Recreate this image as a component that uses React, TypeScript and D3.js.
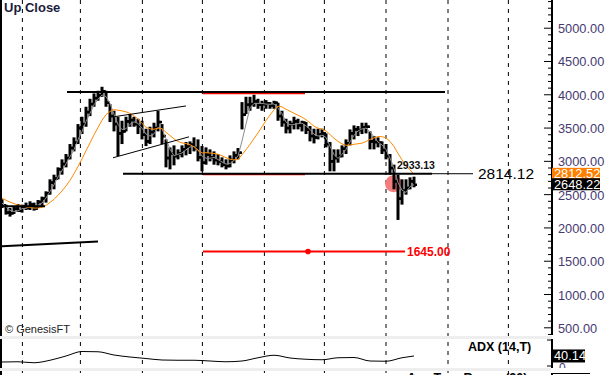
import * as d3 from 'd3'

// ---- price data (first 10 bars sit left of the visible window, they only feed the averages)
const highs = [
  2620, 2600, 2580, 2560, 2540, 2520, 2500, 2480, 2460, 2440,
  2430, 2350, 2300, 2330, 2360, 2350, 2380, 2400, 2380, 2420,
  2470, 2550, 2730, 2800, 2910, 3030, 3110, 3260, 3360, 3560,
  3670, 3820, 3940, 4020, 4060, 4120, 4060, 3860, 3760, 3670,
  3610, 3670, 3710, 3670, 3640, 3610, 3490, 3520, 3580, 3760,
  3560, 3330, 3210, 3240, 3180, 3240, 3290, 3300, 3360, 3330,
  3230, 3210, 3180, 3150, 3110, 3060, 3030, 3090, 3150, 3200,
  3890, 3970, 3970, 4000, 3940, 3910, 3920, 3890, 3910, 3880,
  3760, 3640, 3610, 3670, 3640, 3610, 3590, 3530, 3490, 3490,
  3490, 3420, 3290, 3180, 3180, 3240, 3330, 3480, 3540, 3530,
  3580, 3580, 3450, 3380, 3360, 3300, 3260, 3110, 2950, 2800,
  2730, 2730, 2760, 2770,
]
const lows = [
  2500, 2480, 2460, 2440, 2420, 2400, 2380, 2360, 2340, 2320,
  2300, 2200, 2170, 2210, 2240, 2230, 2270, 2270, 2260, 2300,
  2330, 2380, 2500, 2580, 2730, 2800, 2910, 3030, 3150, 3260,
  3410, 3520, 3680, 3820, 3910, 3970, 3820, 3590, 3450, 3080,
  3260, 3450, 3520, 3520, 3410, 3330, 3230, 3260, 3360, 3450,
  3260, 2910, 2880, 2940, 3030, 3060, 3090, 3110, 3150, 3000,
  2850, 2950, 3000, 2950, 2940, 2910, 2880, 2910, 2970, 3030,
  3480, 3710, 3760, 3820, 3790, 3760, 3790, 3790, 3790, 3610,
  3520, 3420, 3420, 3480, 3480, 3450, 3410, 3300, 3270, 3330,
  3360, 3210, 2850, 2850, 2980, 3060, 3110, 3240, 3330, 3380,
  3410, 3420, 3180, 3180, 3210, 3110, 3030, 2800, 2580, 2120,
  2350, 2500, 2580, 2610,
]
const closes = [
  2560, 2540, 2520, 2500, 2480, 2460, 2440, 2420, 2400, 2380,
  2340, 2230, 2220, 2290, 2260, 2320, 2300, 2350, 2290, 2390,
  2440, 2520, 2680, 2740, 2880, 2960, 3050, 3200, 3280, 3500,
  3560, 3740, 3860, 3950, 3990, 4050, 3880, 3680, 3560, 3420,
  3450, 3600, 3620, 3560, 3530, 3400, 3300, 3440, 3500, 3590,
  3380, 3050, 3120, 3080, 3120, 3180, 3220, 3250, 3200, 3060,
  2980, 3100, 3060, 3020, 3000, 2950, 2930, 3020, 3090, 3130,
  3700, 3850, 3860, 3900, 3850, 3860, 3870, 3840, 3880, 3680,
  3590, 3500, 3560, 3600, 3540, 3580, 3480, 3380, 3360, 3400,
  3420, 3260, 3000, 3050, 3080, 3190, 3270, 3420, 3480, 3470,
  3510, 3520, 3300, 3290, 3280, 3170, 3080, 2900, 2700, 2440,
  2560, 2600, 2700, 2648.22,
]

// month separators (bar positions)
const monthIdx = [15.1, 29.6, 45.1, 60.1, 75.6, 90.6, 106, 121.5, 136.6]
const yTicks = [500, 1000, 1500, 2000, 2500, 3000, 3500, 4000, 4500, 5000]

// ADX (14,T)
const adxIdx = [10, 14, 18, 22, 26, 30, 34, 38, 42, 46, 50, 54, 58, 62, 66, 70, 74, 78, 82, 86, 90, 94, 98, 102, 106, 110, 113]
const adxVals = [16, 17, 13, 23, 40, 58, 57, 44, 36, 30, 24, 23, 23, 20, 17, 20, 33, 43, 32, 27, 25, 33, 34, 20, 19, 33, 40.14]

// drawn studies: [bar, price] endpoints
const thickLines = [
  [[26.25, 4040], [120.75, 4040]],
  [[40.25, 2814.12], [117.5, 2814.12]],
  [[9.5, 2325], [20.75, 2325]],
  [[9.5, 1722], [34, 1796]],
]
const thinLines = [
  [[37.75, 3668], [56, 3832]],
  [[37.75, 3054], [56.75, 3368]],
  [[117.5, 2814.12], [127.75, 2814.12]],
]
const redLines = [
  [[60.25, 4022], [85.75, 4022]],
  [[60.25, 2806], [85.75, 2806]],
  [[60.25, 1645], [110.75, 1645]],
]
const redDot = [86.5, 1645]
const circlePt = [107.9, 2665]

const lastOrange = 2812.52
const lastClose = 2648.22
const lastAdx = 40.14

const sma = (arr: number[], n: number) =>
  arr.map((_, i) => (i < n - 1 ? null : d3.mean(arr.slice(i - n + 1, i + 1)) as number))

const FONT = 'Liberation Sans, Arial, sans-serif'

export default function App() {
  const x = d3.scaleLinear().domain([10, 113]).range([2, 414])
  const y = d3.scaleLinear().domain([500, 5000]).range([327.8, 28.2])
  const yAdx = d3.scaleLinear().domain([0, 100]).range([366, 341])
  const axisX = 552

  const fast = sma(closes, 3)
  const slow = sma(closes, 10)
  const maLine = d3.line<number | null>()
    .defined(d => d !== null)
    .x((_, i) => x(i))
    .y(d => y(d as number))
  const adxLine = d3.line<number>()
    .x((_, i) => x(adxIdx[i]))
    .y(d => yAdx(d))
    .curve(d3.curveMonotoneX)

  const minor = d3.range(0, 5600, 100).filter(v => y(v) >= 0 && y(v) <= 335)
  const seg = (s: number[][]) => ({ x1: x(s[0][0]), y1: y(s[0][1]), x2: x(s[1][0]), y2: y(s[1][1]) })

  return (
    <svg width={607} height={375} style={{ position: 'absolute', left: 0, top: 0, background: '#fff' }}
      fontFamily={FONT}>
      <defs>
        <clipPath id="price"><rect x={2} y={0} width={axisX - 2} height={336} /></clipPath>
        <clipPath id="adx"><rect x={2} y={339} width={axisX - 2} height={29} /></clipPath>
      </defs>
      <rect width={607} height={375} fill="#fff" />

      {/* month separators */}
      {monthIdx.map((m, i) => (
        <line key={i} x1={x(m)} x2={x(m)} y1={0} y2={375} stroke="#000" strokeDasharray="4,5" />
      ))}

      <g clipPath="url(#price)">
        <circle cx={x(circlePt[0])} cy={y(circlePt[1])} r={8.5} fill="#f47c7c" />
        {closes.map((c, i) => {
          const o = i > 0 ? closes[i - 1] : c
          return (
            <g key={i} stroke="#000" strokeWidth={2.5}>
              <line x1={x(i)} x2={x(i)} y1={y(highs[i])} y2={y(lows[i])} strokeWidth={3} />
              <line x1={x(i) - 3} x2={x(i)} y1={y(o)} y2={y(o)} />
              <line x1={x(i)} x2={x(i) + 3} y1={y(c)} y2={y(c)} />
            </g>
          )
        })}
        <path d={maLine(fast) ?? ''} fill="none" stroke="#8c8c8c" strokeWidth={1} />
        <path d={maLine(slow) ?? ''} fill="none" stroke="#ff8a00" strokeWidth={1} />

        {redLines.map((s, i) => <line key={i} {...seg(s)} stroke="#f00" strokeWidth={2} />)}
        {thickLines.map((s, i) => <line key={i} {...seg(s)} stroke="#000" strokeWidth={2} />)}
        {thinLines.map((s, i) => <line key={i} {...seg(s)} stroke="#000" strokeWidth={1} />)}
        <circle cx={x(redDot[0])} cy={y(redDot[1])} r={2.8} fill="#f00" />

        <text x={x(108.75)} y={y(2814.12) - 5} fontSize={10.5} fontWeight="bold" fill="#111">2933.13</text>
        <text x={478} y={y(2814.12) + 5} fontSize={15.5} fill="#000">2814.12</text>
        <text x={x(111.25)} y={y(1645) + 4.5} fontSize={12} fontWeight="bold" fill="#f00">1645.00</text>
        <text x={4} y={12} fontSize={13} fontWeight="bold" fill="#1c1c3c">Up Close</text>
        <text x={5} y={333} fontSize={11} fill="#222">© GenesisFT</text>
      </g>

      {/* price axis */}
      <line x1={axisX} x2={axisX} y1={0} y2={335} stroke="#000" strokeWidth={2} />
      {minor.map(v => (
        <line key={v} x1={axisX - (v % 500 === 0 ? 8 : 4)} x2={axisX} y1={y(v)} y2={y(v)} stroke="#000" />
      ))}
      {yTicks.map(v => (
        <text key={v} x={558} y={y(v) + 5} fontSize={12.8} fill="#463a70">{v.toFixed(2)}</text>
      ))}
      <rect x={axisX} y={y(lastOrange) - 6} width={48} height={12} fill="#ff7f00" />
      <text x={554} y={y(lastOrange) + 4.5} fontSize={12.8} fill="#fff">{lastOrange.toFixed(2)}</text>
      <rect x={axisX} y={y(lastClose) - 6.5} width={48} height={12} fill="#000" />
      <text x={554} y={y(lastClose) + 4} fontSize={12.8} fill="#fff">{lastClose.toFixed(2)}</text>

      {/* ADX panel */}
      <g clipPath="url(#adx)">
        <path d={adxLine(adxVals) ?? ''} fill="none" stroke="#000" strokeWidth={1} />
      </g>
      <text x={468} y={351} fontSize={12.5} fontWeight="bold" fill="#000">ADX (14,T)</text>
      <line x1={axisX} x2={axisX} y1={339} y2={368} stroke="#000" strokeWidth={2} />
      <line x1={axisX - 5} x2={axisX} y1={340} y2={340} stroke="#000" />
      <line x1={axisX - 5} x2={axisX} y1={366} y2={366} stroke="#000" />
      <text x={559} y={372} fontSize={12} fill="#463a70">0</text>
      <rect x={axisX} y={yAdx(lastAdx) - 6.5} width={33} height={13} fill="#000" />
      <text x={554} y={yAdx(lastAdx) + 4.5} fontSize={12.8} fill="#fff">{lastAdx.toFixed(2)}</text>

      {/* panel separators */}
      <rect x={0} y={336} width={axisX} height={3} fill="#eeeeee" />
      <rect x={0} y={368} width={axisX} height={3} fill="#eeeeee" />
      <rect x={axisX - 1} y={368} width={60} height={5} fill="#fff" />

      {/* bottom panel */}
      <text x={407} y={381.5} fontSize={12.5} fontWeight="bold" fill="#000">Avg True Range (20)</text>
      <line x1={axisX} x2={axisX} y1={373} y2={375} stroke="#000" strokeWidth={2} />
      <line x1={axisX} x2={590} y1={373.5} y2={373.5} stroke="#000" />

      {/* left borders */}
      <line x1={1} x2={1} y1={0} y2={336} stroke="#000" strokeWidth={2} />
      <line x1={1} x2={1} y1={339} y2={368} stroke="#000" strokeWidth={2} />
      <line x1={1} x2={1} y1={371} y2={375} stroke="#000" strokeWidth={2} />
    </svg>
  )
}
